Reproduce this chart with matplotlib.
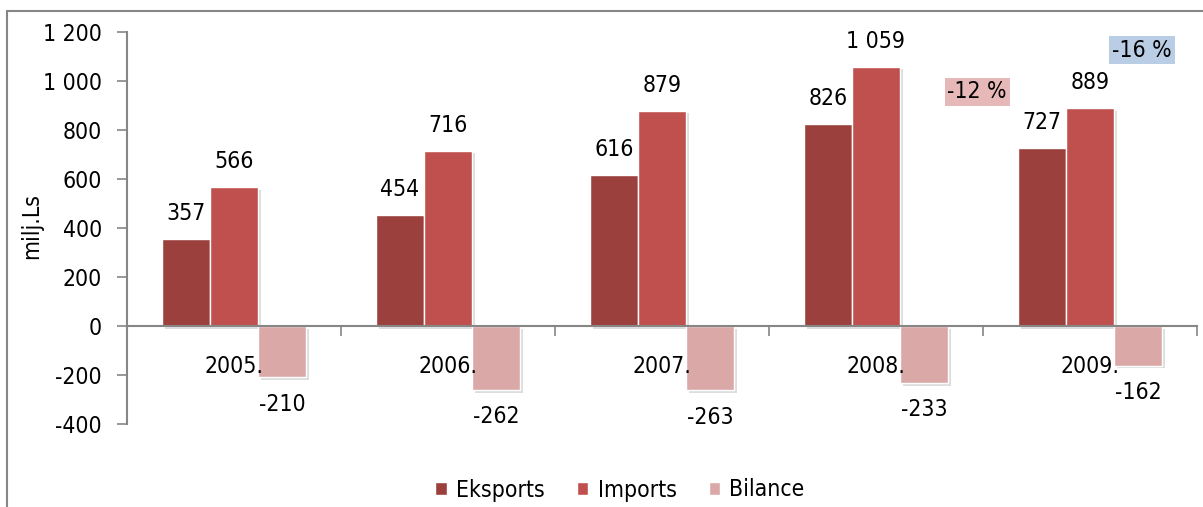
import matplotlib
matplotlib.use("Agg")
import matplotlib.pyplot as plt
import matplotlib.patches as mpatches
import matplotlib.patheffects as pe
from matplotlib.ticker import FuncFormatter, FixedLocator
import numpy as np

years = ["2005.", "2006.", "2007.", "2008.", "2009."]
eksports = [357, 454, 616, 826, 727]
imports = [566, 716, 879, 1059, 889]
bilance = [-210, -262, -263, -233, -162]
series_names = ["Eksports", "Imports", "Bilance"]
series_colors = ["#9C403E", "#C0504D", "#D9A8A7"]
yticks = [-400, -200, 0, 200, 400, 600, 800, 1000, 1200]
ylabel = "milj.Ls"
change_texts = ["-12 %", "-16 %"]
change_colors = ["#E6B9B8", "#B9CDE5"]

plt.rcParams['font.family'] = ['DejaVu Sans']
plt.rcParams['font.stretch'] = 'condensed'
FS = 16.5
W, H = 1203, 507
fig = plt.figure(figsize=(W / 100, H / 100), dpi=100)
ax = fig.add_axes([127 / W, 1 - 424 / H, (1197 - 127) / W, (424 - 32) / H])
ax.set_axisbelow(False)

def fmt(v):
    s = f"{abs(int(v)):,}".replace(",", " ")
    return ("-" if v < 0 else "") + s

x = np.arange(len(years))
bw = 0.225
shadow = [pe.SimplePatchShadow(offset=(2, -2), alpha=0.22, shadow_rgbFace="#666666"), pe.Normal()]
all_series = [eksports, imports, bilance]
for k, (vals, col, name) in enumerate(zip(all_series, series_colors, series_names)):
    bars = ax.bar(x + (k - 1) * bw, vals, width=bw, color=col, edgecolor="white",
                  linewidth=1.0, label=name, zorder=1)
    for b in bars:
        b.set_path_effects(shadow)
    for xi, v in zip(x + (k - 1) * bw, vals):
        ax.annotate(fmt(v), (xi, v), xytext=(0, 10 if v >= 0 else -11),
                    textcoords="offset points", ha="center",
                    va="bottom" if v >= 0 else "top", fontsize=FS, zorder=5)

ax.set_xlim(-0.5, len(years) - 0.5)
ax.set_ylim(-400, 1200)
ax.set_yticks(yticks)
ax.yaxis.set_major_formatter(FuncFormatter(lambda v, p: fmt(v)))
ax.tick_params(axis="y", labelsize=FS, length=7, width=1.2, color="#868686", pad=11)

ax.xaxis.set_major_locator(FixedLocator(np.arange(len(years) + 1) - 0.5))
ax.xaxis.set_major_formatter(FuncFormatter(lambda v, p: ""))
ax.xaxis.set_minor_locator(FixedLocator(x))
ax.set_xticklabels(years, minor=True)
ax.tick_params(axis="x", which="major", length=7, width=1.2, color="#868686", direction="out")
ax.tick_params(axis="x", which="minor", length=0, labelsize=FS, pad=21)

for s in ["top", "right"]:
    ax.spines[s].set_visible(False)
ax.spines["bottom"].set_position(("data", 0))
ax.spines["bottom"].set_color("#868686")
ax.spines["bottom"].set_linewidth(1.5)
ax.spines["left"].set_color("#868686")
ax.spines["left"].set_linewidth(1.5)

ax.set_ylabel(ylabel, fontsize=FS)
ax.yaxis.set_label_coords((43 - 127) / (1197 - 127), 0.505)

leg = fig.legend(loc="center", bbox_to_anchor=(620 / W, 1 - 490 / H), ncol=3, frameon=False,
                 fontsize=FS, handlelength=0.5, handleheight=0.5, handletextpad=0.4,
                 columnspacing=1.4)
for h in leg.legend_handles:
    h.set_path_effects([])

# percent change boxes
fig.text(977 / W, 1 - 92 / H, change_texts[0], fontsize=FS, ha="center", va="center",
         bbox=dict(boxstyle="square,pad=0.12", fc=change_colors[0], ec="none"))
fig.text(1142 / W, 1 - 50 / H, change_texts[1], fontsize=FS, ha="center", va="center",
         bbox=dict(boxstyle="square,pad=0.12", fc=change_colors[1], ec="none"))

# outer chart-area border
fig.patches.append(mpatches.Rectangle((7 / W, -0.2), 1.2, 1.2 - 11 / H, transform=fig.transFigure,
                                      fill=False, ec="#868686", lw=1.5, zorder=0))

fig.savefig("out.png", dpi=100)
